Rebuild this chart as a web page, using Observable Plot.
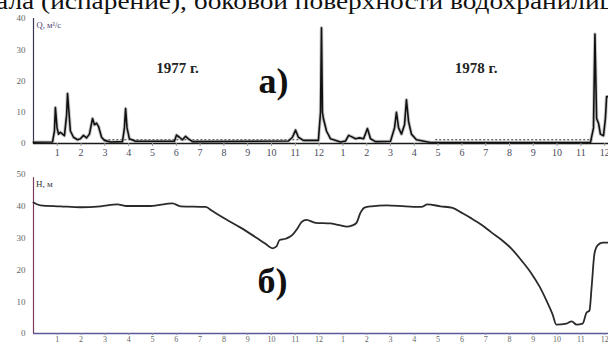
<!DOCTYPE html>
<html><head><meta charset="utf-8">
<script src="https://cdn.jsdelivr.net/npm/d3@7"></script>
<script src="https://cdn.jsdelivr.net/npm/@observablehq/plot@0.6"></script>
<style>
body{margin:0;background:#fff;}
#wrap{position:relative;width:608px;height:347px;overflow:hidden;background:#fff;font-family:"Liberation Serif",serif;}
#head{position:absolute;left:-4px;top:-11px;font-size:24px;line-height:24px;white-space:nowrap;color:#111;transform:scaleX(1.14);transform-origin:0 0;}
#top{position:absolute;left:0;top:0;}
#bot{position:absolute;left:0;top:165px;}
</style></head><body>
<div id="wrap"><div id="top"></div><div id="bot"></div><div id="head">ала (испарение), боковой поверхности водохранилищ</div></div>
<script>
// Month axis (two years, 1977-1978)
const monthTicks = d3.range(1, 25);
const monthLabels = ["1","2","3","4","5","6","7","8","9","10","11","12","1","2","3","4","5","6","7","8","9","10","11","12"];
const qTicks = [0, 10, 20, 30, 40];
const hTicks = [0, 10, 20, 30, 40, 50];

// a) discharge Q, m3/s  (time in months from start of 1977)
const qMonth = [0,0.80,0.88,0.92,0.99,1.05,1.13,1.22,1.30,1.39,1.43,1.49,1.55,1.68,1.85,1.97,2.10,2.23,2.35,2.48,2.56,2.65,2.73,2.86,2.98,3.24,3.74,3.82,3.87,3.93,4.03,4.29,5.92,6.01,6.13,6.26,6.39,6.51,6.68,10.71,10.88,11.01,11.13,11.34,11.97,12.06,12.10,12.14,12.18,12.31,12.48,12.90,13.11,13.24,13.36,13.53,13.70,13.87,14.03,14.16,14.37,15.0,15.17,15.25,15.34,15.46,15.59,15.67,15.76,15.88,16.09,16.68,23.40,23.53,23.59,23.66,23.74,23.82,23.95,24.03,24.08,24.16];
const qValue = [0.4,0.5,4,11.5,5,3,3.6,3,2.5,9,16,10,4,2,1.2,1.5,2.6,1.8,3,8,6,6.5,5.5,2,1,0.5,0.6,5,11.2,5,1.5,0.7,0.7,2.7,2,1.2,2.3,1.5,0.6,0.8,2,4.3,2,1,1,10,37,10,8,4,1.5,0.5,0.8,2.6,2.2,1.5,1.8,1.5,4.8,1.5,0.6,0.7,5,10,5,3,6,14,7,3,1.2,0.3,0.3,5,35,8,6.5,3,2.5,8,15,15];
const dashStart = [3.0, 16.9];
const dashEnd = [11.2, 23.5];
const dashLevel = 1.2;

// б) water level H, m
const hMonth = [0,0.29,1.13,1.97,2.82,3.53,3.87,4.92,5.84,6.18,7.23,7.52,8.07,8.70,9.33,9.75,10.04,10.21,10.34,10.59,10.88,11.09,11.26,11.47,11.85,12.48,12.90,13.15,13.40,13.57,13.74,13.91,14.20,14.83,15.63,16.30,16.55,17.10,17.61,18.03,18.40,18.82,19.24,19.66,20.08,20.50,20.92,21.26,21.55,21.81,21.97,22.39,22.61,22.82,23.07,23.24,23.36,23.45,23.57,23.70,23.91,24.16];
const hValue = [41.2,40.3,40,39.7,40,40.6,40.1,40.1,40.9,40,39.8,38.5,36,33.3,30.3,28.2,26.8,27.4,29.4,29.8,31,33,35,35.7,34.8,34.6,34,33.6,34,34.8,38,39.6,40,40.3,40,39.8,40.6,40,39.5,37.8,36.2,34.2,31.8,29.5,26.7,23,18.9,14.8,10.4,6,2.8,3.1,3.8,2.8,3.1,6.6,7.2,14.5,25.1,27.7,28.6,28.6];

const yearLabels = ["1977 г.", "1978 г."];
const panelLabels = ["а)", "б)"];
const qLabel = "Q, м³/с";
const hLabel = "H, м";

const qData = qMonth.map((t, i) => ({t, v: qValue[i]}));
const hData = hMonth.map((t, i) => ({t, v: hValue[i]}));
const dashData = dashStart.map((s, i) => ({x1: s, x2: dashEnd[i], y: dashLevel}));
const font = '"Liberation Serif", "DejaVu Serif", serif';
const fmt = d => monthLabels[d - 1];

const topPlot = Plot.plot({
  width: 608, height: 165, marginLeft: 33, marginRight: 0, marginTop: 18, marginBottom: 22,
  x: {domain: [0, 24.16]}, y: {domain: [0, 40]},
  style: {fontFamily: font, background: "transparent"},
  marks: [
    Plot.ruleX([0], {y1: 0, y2: 40, stroke: "#3b3352", strokeWidth: 1.2}),
    Plot.ruleY(dashData, {x1: "x1", x2: "x2", y: "y", stroke: "#333", strokeDasharray: "2,2", strokeWidth: 1}),
    Plot.line(qData, {x: "t", y: "v", stroke: "#888", strokeWidth: 3.5, strokeOpacity: 0.45}),
    Plot.line(qData, {x: "t", y: "v", stroke: "#111", strokeWidth: 1.6}),
    Plot.ruleY([0], {stroke: "#1a1a1a", strokeWidth: 1.6}),
    Plot.axisX(monthTicks, {tickFormat: fmt, tickSize: 3, tickPadding: 2, fontSize: 10, fill: "#4a4a5a", stroke: "#999", label: null}),
    Plot.axisY(qTicks, {tickSize: 0, tickPadding: 8, fontSize: 9, fill: "#666", label: null}),
    Plot.text([qLabel], {x: 0.13, y: 37.8, text: d => d, textAnchor: "start", fontSize: 8.5, fill: "#4a4070"}),
    Plot.text(yearLabels, {x: [6.05, 18.6], y: [24, 24], text: d => d, fontSize: 15, fontWeight: "bold", fill: "#222"}),
    Plot.text([panelLabels[0]], {x: 10.08, y: 19.8, text: d => d, fontSize: 36, fontWeight: "bold", fill: "#111"})
  ]
});
document.getElementById("top").appendChild(topPlot);

const botPlot = Plot.plot({
  width: 608, height: 182, marginLeft: 33, marginRight: 0, marginTop: 9, marginBottom: 14,
  x: {domain: [0, 24.16]}, y: {domain: [0, 50]},
  style: {fontFamily: font, background: "transparent"},
  marks: [
    Plot.ruleX([0], {y1: 0, y2: 49, stroke: "#7a3a5a", strokeWidth: 1.2}),
    Plot.ruleY([0], {stroke: "#5a5a9a", strokeWidth: 1.3}),
    Plot.line(hData, {x: "t", y: "v", stroke: "#2a2a2a", strokeWidth: 1.8, curve: "monotone-x"}),
    Plot.axisX(monthTicks, {tickFormat: fmt, tickSize: 2, tickPadding: 1, fontSize: 8, fill: "#666", stroke: "#888", label: null}),
    Plot.axisY(hTicks, {tickSize: 0, tickPadding: 8, fontSize: 9, fill: "#666", label: null}),
    Plot.text([hLabel], {x: 0.1, y: 46.9, text: d => d, textAnchor: "start", fontSize: 9, fill: "#333"}),
    Plot.text([panelLabels[1]], {x: 10.04, y: 16.4, text: d => d, fontSize: 36, fontWeight: "bold", fill: "#111"})
  ]
});
document.getElementById("bot").appendChild(botPlot);
</script>
</body></html>
